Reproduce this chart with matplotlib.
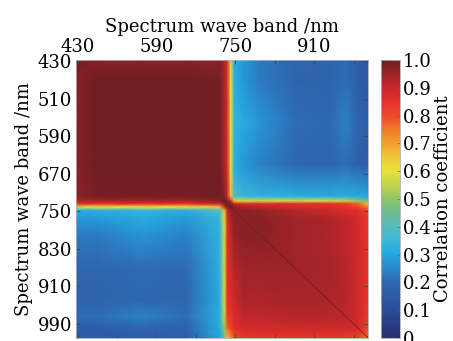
import numpy as np
import matplotlib.pyplot as plt
from matplotlib.colors import LinearSegmentedColormap

plt.rcParams['font.family'] = 'DejaVu Serif'

# wave band nodes (nm) where the correlation surface is sampled
bands = [427, 470, 560, 650, 718, 728, 734, 741, 748, 765, 800, 870, 940, 975, 1000, 1020]

# upper triangle of the correlation matrix, each row starts on the diagonal
corr_rows = [
    [1.00, 0.97, 0.97, 0.97, 0.97, 0.93, 0.86, 0.58, 0.32, 0.28, 0.23, 0.19, 0.18, 0.21, 0.16, 0.15],
    [1.00, 1.00, 1.00, 0.99, 0.94, 0.86, 0.60, 0.32, 0.28, 0.23, 0.19, 0.18, 0.21, 0.16, 0.15],
    [1.00, 1.00, 0.99, 0.94, 0.86, 0.60, 0.34, 0.31, 0.27, 0.21, 0.20, 0.24, 0.18, 0.16],
    [1.00, 0.99, 0.94, 0.86, 0.60, 0.32, 0.28, 0.24, 0.20, 0.19, 0.21, 0.17, 0.16],
    [1.00, 0.97, 0.90, 0.66, 0.40, 0.34, 0.33, 0.32, 0.31, 0.32, 0.31, 0.30],
    [1.00, 0.97, 0.90, 0.66, 0.58, 0.57, 0.57, 0.57, 0.55, 0.50, 0.45],
    [1.00, 0.97, 0.91, 0.87, 0.86, 0.86, 0.85, 0.83, 0.77, 0.66],
    [1.00, 0.96, 0.94, 0.91, 0.88, 0.86, 0.84, 0.81, 0.73],
    [0.97, 0.97, 0.96, 0.92, 0.89, 0.87, 0.86, 0.81],
    [0.97, 0.97, 0.95, 0.93, 0.91, 0.88, 0.83],
    [0.97, 0.95, 0.93, 0.91, 0.88, 0.84],
    [0.95, 0.94, 0.92, 0.89, 0.84],
    [0.93, 0.92, 0.89, 0.84],
    [0.91, 0.89, 0.83],
    [0.88, 0.81],
    [0.75],
]

tick_bands = [430, 510, 590, 670, 750, 830, 910, 990]
top_labels = ['430', '', '590', '', '750', '', '910', '']
cbar_ticks = [0, 0.1, 0.2, 0.3, 0.4, 0.5, 0.6, 0.7, 0.8, 0.9, 1.0]
cbar_labels = ['0', '0.1', '0.2', '0.3', '0.4', '0.5', '0.6', '0.7', '0.8', '0.9', '1.0']

# fill the symmetric matrix
n = len(bands)
corr = np.zeros((n, n))
for i, row in enumerate(corr_rows):
    corr[i, i:] = row
    corr[i:, i] = row

cmap = LinearSegmentedColormap.from_list('corr', [
    (0.00, '#2a2e6e'), (0.10, '#2c4c9a'), (0.20, '#2f68b2'),
    (0.25, '#2a88cc'), (0.30, '#22a8e2'), (0.35, '#3cb8d8'),
    (0.40, '#54bcc0'), (0.45, '#6cbc90'), (0.50, '#90c468'),
    (0.55, '#c0d450'), (0.60, '#e8e23c'), (0.65, '#f0c83a'),
    (0.70, '#f3a02e'), (0.75, '#f07a2a'), (0.80, '#ee4a2a'),
    (0.85, '#e6302a'), (0.90, '#c8282a'), (0.95, '#a02428'),
    (1.00, '#6e1e22'),
])

fig = plt.figure(figsize=(4.53, 3.41), dpi=100)
ax = fig.add_axes([0.168, 0.009, 0.645, 0.815])
mesh = ax.pcolormesh(bands, bands, corr, shading='gouraud', cmap=cmap, vmin=0, vmax=1)
# self correlation along the diagonal of the long-wave block
ax.plot([bands[7], bands[-1]], [bands[7], bands[-1]], color=cmap(1.0), lw=0.6)

ax.set_xlim(bands[0], bands[-1])
ax.set_ylim(bands[-1], bands[0])
ax.xaxis.tick_top()
ax.xaxis.set_label_position('top')
ax.set_xticks(tick_bands)
ax.set_xticklabels(top_labels)
ax.set_yticks(tick_bands)
ax.set_yticklabels([str(b) for b in tick_bands])
ax.tick_params(direction='in', length=3, width=0.6, color='#444444',
               top=True, bottom=True, left=True, right=True, labelsize=13, pad=3)
ax.set_xlabel('Spectrum wave band /nm', fontsize=13, labelpad=4)
ax.set_ylabel('Spectrum wave band /nm', fontsize=13, labelpad=3)
for s in ax.spines.values():
    s.set_color('#b0b0b0')
    s.set_linewidth(0.6)

cax = fig.add_axes([0.842, 0.009, 0.041, 0.815])
cb = fig.colorbar(mesh, cax=cax, ticks=cbar_ticks)
cb.ax.set_yticklabels(cbar_labels)
cb.ax.tick_params(direction='in', length=2, width=0.5, color='#666666', labelsize=13, pad=2)
cb.outline.set_edgecolor('#b0b0b0')
cb.outline.set_linewidth(0.6)
cb.set_label('Correlation coefficient', fontsize=13, labelpad=2)

fig.savefig('out.png', dpi=100)
